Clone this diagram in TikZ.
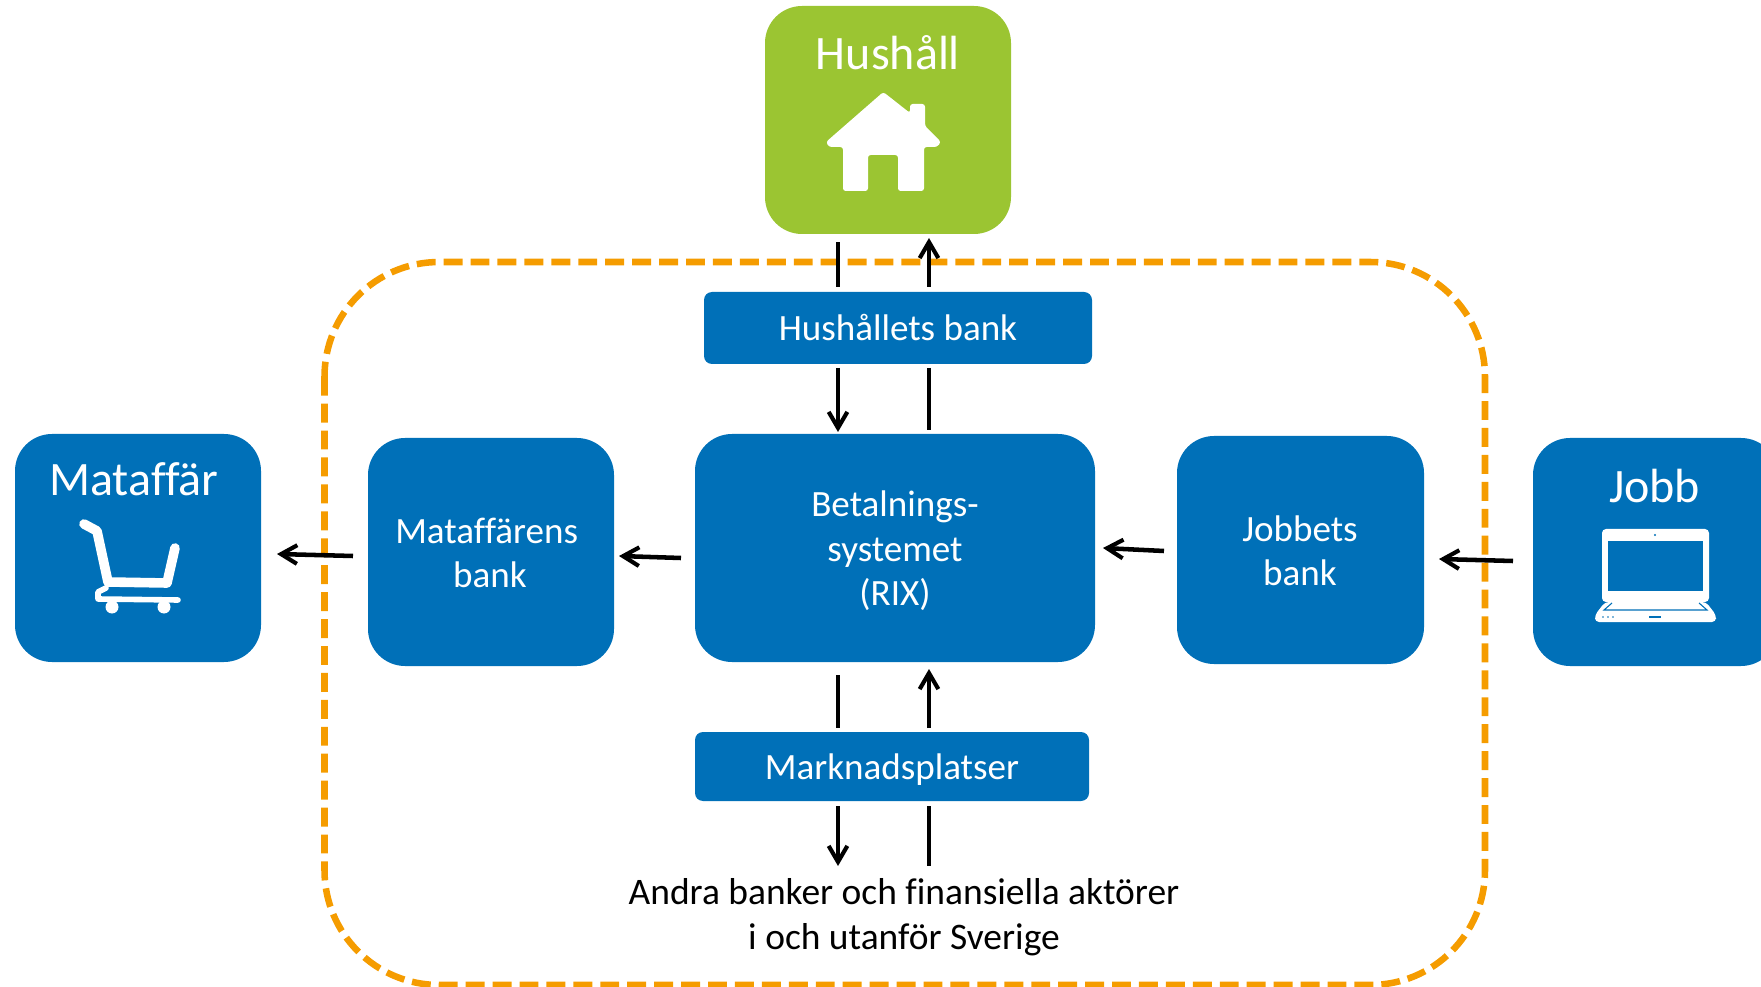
\documentclass[tikz,border=0pt]{standalone}
\usepackage{fontspec}
\setmainfont{Carlito}[Ligatures=NoCommon]
\usetikzlibrary{arrows.meta}
\definecolor{bankblue}{HTML}{0070B8}
\definecolor{hhgreen}{HTML}{9BC532}
\definecolor{dashorange}{HTML}{F59C00}
\tikzset{
  sized/.style 2 args={minimum width=#1*0.75pt,minimum height=#2*0.75pt},
  bigbox/.style={fill=#1,draw=none,rounded corners=27.75pt,inner sep=0pt,text=white,align=center,font=\fontsize{27.8}{33.3}\selectfont},
  barbox/.style={fill=bankblue,draw=none,rounded corners=6pt,inner sep=0pt,text=white,align=center,font=\fontsize{27.8}{33.3}\selectfont},
  titletext/.style={anchor=base,inner sep=0pt,text=white,font=\fontsize{36}{40}\selectfont},
  boxtext/.style={inner sep=0pt,text=white,align=center,font=\fontsize{27.8}{33.3}\selectfont},
  plaintext/.style={inner sep=0pt,align=center,font=\fontsize{28.1}{33.6}\selectfont},
  conn/.style={line width=3.4pt,black},
  flow/.style={conn,-{Straight Barb[length=12pt,width=14pt,line width=3.1pt]}},
  icon/.style={fill=white,draw=none},
}
\begin{document}
\begin{tikzpicture}[x=0.75pt,y=-0.75pt]
\useasboundingbox (0,0) rectangle (1761,987);
\clip (0,0) rectangle (1761,987);
% dashed boundary
\draw[dashorange,line width=4.9pt,dash pattern=on 14.2pt off 6pt,rounded corners=86pt]
  (324.5,262) rectangle (1485,985);
% boxes
\node[bigbox=hhgreen,sized={246}{228}] (hushall) at (888,120) {};
\node[bigbox=bankblue,sized={246}{228}] (mat) at (138,548) {};
\node[bigbox=bankblue,sized={245}{228}] (jobb) at (1655.5,552) {};
\node[bigbox=bankblue,sized={246}{228}] (matbank) at (491,552) {};
\node[boxtext] (matbanktext) at (490,553) {Mataffärens\kern 5pt\\bank};
\node[bigbox=bankblue,sized={400}{228}] (rix) at (895,548) {};
\node[boxtext] (rixtext) at (895,551) {Betalnings-\\systemet\\(RIX)};
\node[bigbox=bankblue,sized={247}{228}] (jobbank) at (1300.5,550) {};
\node[boxtext] (jobbanktext) at (1300,551) {Jobbets\\bank};
\node[barbox,sized={388}{72}] (hbank) at (898,328) {Hushållets bank};
\node[barbox,sized={394}{69}] (market) at (892,766.5) {};
\node[boxtext] (markettext) at (892,770) {Marknadsplatser};
\node[plaintext] (andra) at (904,917.5) {Andra banker och finansiella aktörer\\i och utanför Sverige};
% titles
\node[titletext] (thush) at (888,69.5) {Hushåll};
\node[titletext] (tmat) at (134,495.5) {Mataffär};
\node[titletext] (tjobb) at (1654.7,502.5) {Jobb};
% house icon
\fill[icon,rounded corners=2pt] (883.3,92) -- (910,113) -- (910,104) -- (925,104) -- (925,126) -- (941,142) -- (937,147) -- (924,147) -- (924,191) -- (898,191) -- (898,155) -- (868,155) -- (868,191) -- (843,191) -- (843,147) -- (829,147) -- (826,142) -- cycle;
% cart icon
\draw[white,line width=7.2pt,line cap=round,line join=round] (84,524) -- (97,531) -- (108,582) -- (167,583) -- (175,548);
\draw[white,line width=4.2pt,line cap=round,line join=round] (106,588) -- (98,592) -- (98,599) -- (178,600);
\fill[white] (112,607) circle[radius=6.5] (164,607) circle[radius=6.5];
% laptop icon
\fill[icon,rounded corners=3pt] (1602,529) rectangle (1709,602);
\fill[bankblue] (1608,541) rectangle (1703,591);
\fill[bankblue] (1655,535) circle[radius=1.2];
\fill[icon,rounded corners=3pt] (1605,602) -- (1706,602) -- (1716,615) -- (1716,622) -- (1595,622) -- (1595,615) -- cycle;
\draw[bankblue,line width=0.8pt] (1612,603) -- (1604,610) -- (1707,610) -- (1699,603);
\draw[bankblue,line width=1.6pt] (1649,617) -- (1661,617);
\fill[bankblue] (1603,617) circle[radius=0.8] (1608,617) circle[radius=0.8] (1613,617) circle[radius=0.8];
% connector end points
\coordinate (a1) at (838,287); \coordinate (a2) at (838,242);
\coordinate (b1) at (929,287); \coordinate (b2) at (929,238);
\coordinate (c1) at (838,368); \coordinate (c2) at (838,432);
\coordinate (d1) at (929,368); \coordinate (d2) at (929,430);
\coordinate (e1) at (838,675); \coordinate (e2) at (838,728);
\coordinate (f1) at (929,728); \coordinate (f2) at (929,669);
\coordinate (g1) at (838,806); \coordinate (g2) at (838,866);
\coordinate (h1) at (929,806); \coordinate (h2) at (929,866);
\coordinate (i1) at (353,556); \coordinate (i2) at (277,554);
\coordinate (j1) at (681,558); \coordinate (j2) at (619,556);
\coordinate (k1) at (1164,551); \coordinate (k2) at (1103,548);
\coordinate (l1) at (1513,561); \coordinate (l2) at (1439,559);
% connectors
\draw[conn] (a1) -- (a2);
\draw[flow] (b1) -- (b2);
\draw[flow] (c1) -- (c2);
\draw[conn] (d1) -- (d2);
\draw[conn] (e1) -- (e2);
\draw[flow] (f1) -- (f2);
\draw[flow] (g1) -- (g2);
\draw[conn] (h1) -- (h2);
\draw[flow] (i1) -- (i2);
\draw[flow] (j1) -- (j2);
\draw[flow] (k1) -- (k2);
\draw[flow] (l1) -- (l2);
\end{tikzpicture}
\end{document}
